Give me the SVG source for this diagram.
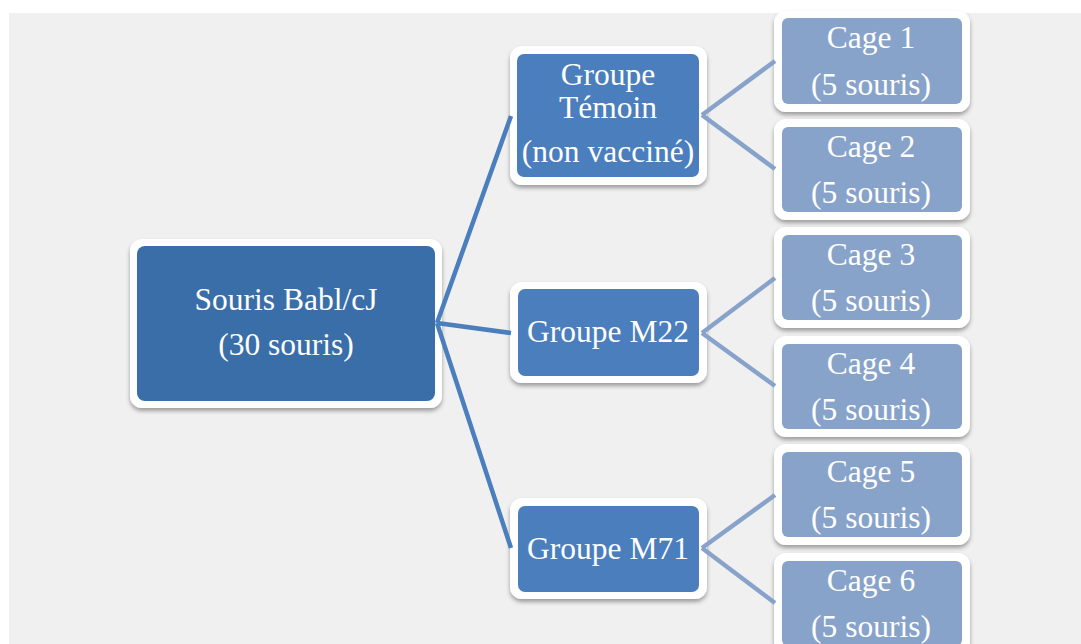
<svg xmlns="http://www.w3.org/2000/svg" width="1081" height="644" viewBox="0 0 1081 644">
<defs>
<filter id="sh" x="-10%" y="-10%" width="120%" height="130%">
<feDropShadow dx="0" dy="3" stdDeviation="2" flood-color="#000" flood-opacity="0.35"/>
</filter>
<style>
.frame{fill:#ffffff;filter:url(#sh);}
.root{fill:#3a6ea8;}
.grp{fill:#4a7ebd;}
.cage{fill:#88a3ca;}
.t{font-family:'Liberation Serif','Times New Roman',serif;font-size:31.5px;fill:#ffffff;text-anchor:middle;}
.c1{stroke:#4a7ebd;stroke-width:4.5;fill:none;}
.c2{stroke:#88a3ca;stroke-width:4.5;fill:none;}
</style>
</defs>
<rect x="0" y="0" width="1081" height="644" fill="#ffffff"/>
<rect x="9" y="13" width="1072" height="631" fill="#f0f0f0"/>
<g id="root">
<rect class="frame" x="130" y="239" width="312" height="169" rx="12"/>
<rect class="root" x="137" y="246" width="298" height="155" rx="8"/>
<text class="t" x="286" y="310">Souris Babl/cJ</text>
<text class="t" x="286" y="355">(30 souris)</text>
</g>
<g id="temoin">
<rect class="frame" x="510" y="46" width="197" height="139" rx="12"/>
<rect class="grp" x="517" y="54" width="182" height="123" rx="7"/>
<text class="t" x="608" y="85">Groupe</text>
<text class="t" x="608" y="118">Témoin</text>
<text class="t" x="608" y="162">(non vacciné)</text>
</g>
<g id="m22">
<rect class="frame" x="510" y="282" width="197" height="101" rx="12"/>
<rect class="grp" x="518" y="289" width="181" height="87" rx="7"/>
<text class="t" x="608" y="342">Groupe M22</text>
</g>
<g id="m71">
<rect class="frame" x="510" y="498" width="197" height="101" rx="12"/>
<rect class="grp" x="518" y="506" width="181" height="86" rx="7"/>
<text class="t" x="608" y="559">Groupe M71</text>
</g>
<g id="cage1">
<rect class="frame" x="774" y="11" width="196" height="101" rx="12"/>
<rect class="cage" x="782" y="18" width="180" height="86" rx="6"/>
<text class="t" x="871" y="48">Cage 1</text>
<text class="t" x="871" y="95">(5 souris)</text>
</g>
<g id="cage2">
<rect class="frame" x="774" y="119" width="196" height="101" rx="12"/>
<rect class="cage" x="782" y="127" width="180" height="85" rx="6"/>
<text class="t" x="871" y="157">Cage 2</text>
<text class="t" x="871" y="203">(5 souris)</text>
</g>
<g id="cage3">
<rect class="frame" x="774" y="227" width="196" height="101" rx="12"/>
<rect class="cage" x="782" y="235" width="180" height="85" rx="6"/>
<text class="t" x="871" y="265">Cage 3</text>
<text class="t" x="871" y="311">(5 souris)</text>
</g>
<g id="cage4">
<rect class="frame" x="774" y="336" width="196" height="101" rx="12"/>
<rect class="cage" x="782" y="344" width="180" height="85" rx="6"/>
<text class="t" x="871" y="374">Cage 4</text>
<text class="t" x="871" y="420">(5 souris)</text>
</g>
<g id="cage5">
<rect class="frame" x="774" y="444" width="196" height="101" rx="12"/>
<rect class="cage" x="782" y="452" width="180" height="85" rx="6"/>
<text class="t" x="871" y="482">Cage 5</text>
<text class="t" x="871" y="528">(5 souris)</text>
</g>
<g id="cage6">
<rect class="frame" x="774" y="553" width="196" height="101" rx="12"/>
<rect class="cage" x="782" y="561" width="180" height="85" rx="6"/>
<text class="t" x="871" y="591">Cage 6</text>
<text class="t" x="871" y="637">(5 souris)</text>
</g>
<g id="connectors">
<path class="c1" d="M437,323 L511,116 M437,323 L511,333 M437,323 L511,548"/>
<path class="c2" d="M702,115 L775,61 M702,115 L775,169 M702,333 L775,278 M702,333 L775,386 M702,548 L775,495 M702,548 L775,603"/>
</g>
</svg>
